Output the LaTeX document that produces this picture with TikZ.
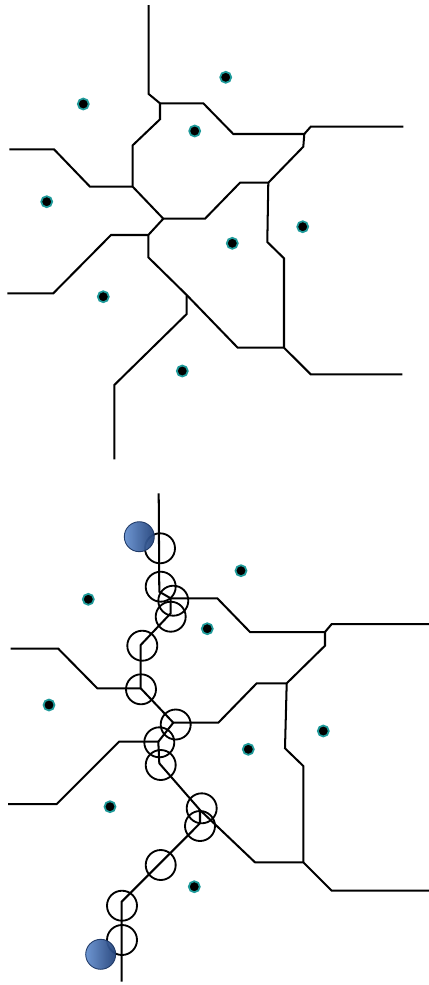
\documentclass[tikz,border=0pt]{standalone}
\usepackage{xcolor}
\usepackage{tikz}
\usetikzlibrary{positioning,calc,shadings}

\definecolor{siterim}{HTML}{1E9A9A}
\definecolor{ballL}{HTML}{6690CF}
\definecolor{ballR}{HTML}{22427A}

\tikzset{
  edge/.style={line width=1.15pt, line join=miter},
  site/.style={circle, fill=black, draw=siterim, line width=1pt, inner sep=0pt, minimum size=2.2mm},
  probe/.style={line width=1.05pt},
  ball/.style={left color=ballL, right color=ballR, draw=ballR!80!black, line width=0.5pt, opacity=0.95}
}

\begin{document}
\begin{tikzpicture}[x=0.02cm, y=-0.02cm]
\useasboundingbox (0,0) rectangle (429,985);

% upper diagram: plain cells
\draw[edge] (148.7,5) -- (148.7,94) -- (160,103.3) -- (203.3,103.3) -- (233.3,134) -- (304.3,134) -- (310.7,126.7) -- (403.3,126.7);
\draw[edge] (304.3,134) -- (303.3,146.7) -- (268.3,182.7) -- (240,182.7) -- (205,218.7) -- (163.3,218.7) -- (132.7,186.7) -- (132.7,145.3) -- (160,119.3) -- (160,103.3);
\draw[edge] (268.3,182.7) -- (267.3,242) -- (284,258.3) -- (284,347.7);
\draw[edge] (132.7,186.7) -- (90,186.7) -- (54,149.3) -- (9.3,149.3);
\draw[edge] (163.3,218.7) -- (148.3,235) -- (111,235) -- (53.3,293.3) -- (7.3,293.3);
\draw[edge] (148.3,235) -- (148.3,257.3) -- (186.7,295) -- (237.7,347.7) -- (284,347.7) -- (310.7,374.3) -- (402.3,374.3);
\draw[edge] (186.7,295) -- (186.7,314) -- (114.3,385) -- (114.3,459.3);

\node[site] (a1) at (225.7,77.3) {};
\node[site] (a2) at (83.3,104) {};
\node[site] (a3) at (194.7,131) {};
\node[site] (a4) at (46.7,201.7) {};
\node[site] (a5) at (302.7,226.7) {};
\node[site] (a6) at (232.3,243.3) {};
\node[site] (a7) at (103.3,296.7) {};
\node[site] (a8) at (182.3,371) {};

% lower diagram: cells with the path of probes
\draw[edge] (158.7,493.3) -- (159.3,591.7) -- (170.7,598.3) -- (217.3,598.3) -- (250,632) -- (325,632) -- (331.7,624) -- (429,624);
\draw[edge] (325,632) -- (325,645.7) -- (286.7,683.3) -- (256.7,683.3) -- (218.3,722.7) -- (173.3,722.7) -- (140.7,688.3) -- (140.7,645) -- (170.7,613.3) -- (170.7,598.3);
\draw[edge] (286.7,683.3) -- (285,748.3) -- (303.3,766) -- (303.3,862.3);
\draw[edge] (140.7,688.3) -- (97.3,688.3) -- (58.3,648.7) -- (10.7,648.7);
\draw[edge] (173.3,722.7) -- (158.3,741.7) -- (119,741.7) -- (56.7,804) -- (8,804);
\draw[edge] (158.3,741.7) -- (159.3,763.3) -- (200,810) -- (255,862.3) -- (303.3,862.3) -- (331.7,890.7) -- (429,890.7);
\draw[edge] (200,810) -- (200,823.3) -- (121.7,901.7) -- (121.7,981.7);

\node[site] (b1) at (241,570.7) {};
\node[site] (b2) at (88.3,599.3) {};
\node[site] (b3) at (207.3,628.7) {};
\node[site] (b4) at (49,705) {};
\node[site] (b5) at (323.3,731) {};
\node[site] (b6) at (248.3,749.3) {};
\node[site] (b7) at (110,806.7) {};
\node[site] (b8) at (194.3,886.7) {};

\foreach \px/\py in {160/548.3, 160.7/586.7, 173.3/600.7, 170.7/616.7, 142.3/645.7, 141/689.3,
                     175.7/724.5, 159.3/742.3, 160.7/765, 201.7/808.3, 200/826, 160.7/865,
                     122/905.7, 122/940}
  \draw[probe] (\px,\py) circle (15);

\shade[ball] (139.3,536.7) circle (15);
\shade[ball] (100.7,954.3) circle (15);
\end{tikzpicture}
\end{document}
